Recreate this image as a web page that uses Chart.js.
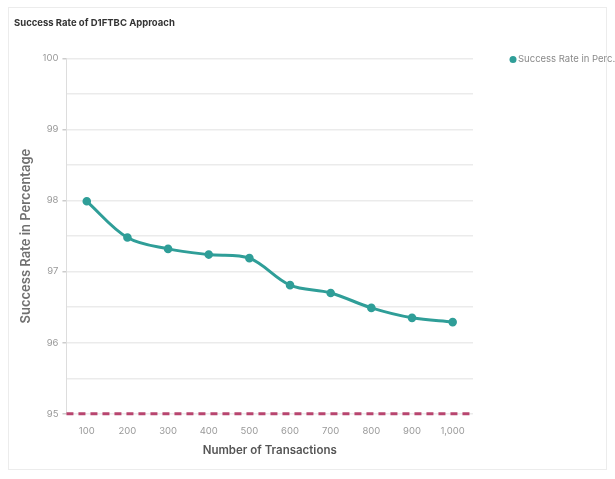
<!DOCTYPE html>
<html>
<head>
<meta charset="utf-8">
<script src="https://cdn.jsdelivr.net/npm/chart.js@4/dist/chart.umd.min.js"></script>
<style>
  html, body { margin: 0; padding: 0; background: #ffffff; width: 615px; height: 479px; overflow: hidden; }
  #card {
    position: absolute; left: 8px; top: 7px; width: 599px; height: 463px;
    border: 1px solid #ececec; box-sizing: border-box; background: #fff;
  }
  #wrap { position: absolute; left: 0; top: 0; width: 615px; height: 479px; }
</style>
</head>
<body>
<div id="card"></div>
<div id="wrap"><canvas id="chart"></canvas></div>
<script>
const transactions = ['100', '200', '300', '400', '500', '600', '700', '800', '900', '1,000'];
const successRate = [97.99, 97.48, 97.32, 97.24, 97.19, 96.81, 96.70, 96.49, 96.35, 96.29];
const thresholdValue = 95;
const yTickValues = [95, 96, 97, 98, 99, 100];

const teal = '#2f9e98';
const dashPink = '#b8456f';
const fontFamily = 'Inter, Roboto, sans-serif';

// Dashed horizontal reference line across the plot at the threshold value
const thresholdLine = {
  id: 'thresholdLine',
  afterDatasetsDraw(chart) {
    const { ctx, chartArea, scales } = chart;
    const y = scales.y.getPixelForValue(thresholdValue);
    ctx.save();
    ctx.strokeStyle = dashPink;
    ctx.lineWidth = 3;
    ctx.setLineDash([7, 5]);
    ctx.beginPath();
    ctx.moveTo(chartArea.left, y);
    ctx.lineTo(chartArea.right, y);
    ctx.stroke();
    ctx.restore();
  }
};

// Compact legend to the right of the plot, with the series name shortened
const sideLegend = {
  id: 'sideLegend',
  afterDraw(chart) {
    const { ctx, chartArea } = chart;
    const ds = chart.data.datasets[0];
    let text = ds.label;
    if (text.length > 20) text = text.slice(0, 20) + '...';
    const x = chartArea.right + 40;
    const y = chartArea.top + 1;
    ctx.save();
    ctx.fillStyle = ds.borderColor;
    ctx.beginPath();
    ctx.arc(x, y, 3.5, 0, Math.PI * 2);
    ctx.fill();
    ctx.fillStyle = '#8a8a8a';
    ctx.font = '9.5px ' + fontFamily;
    ctx.textBaseline = 'middle';
    ctx.textAlign = 'left';
    ctx.fillText(text, x + 5, y);
    ctx.restore();
  }
};

new Chart(document.getElementById('chart'), {
  type: 'line',
  data: {
    labels: transactions,
    datasets: [{
      label: 'Success Rate in Percentage',
      data: successRate,
      borderColor: teal,
      backgroundColor: teal,
      borderWidth: 3,
      tension: 0.35,
      pointRadius: 2.8,
      pointBackgroundColor: teal,
      pointBorderColor: teal,
      fill: false
    }]
  },
  options: {
    responsive: true,
    maintainAspectRatio: false,
    animation: false,
    layout: { padding: { left: 14, right: 142, top: 11, bottom: 18 } },
    plugins: {
      title: {
        display: true,
        text: 'Success Rate of D1FTBC Approach',
        align: 'start',
        color: '#333',
        font: { family: fontFamily, size: 9.5, weight: 'bold' },
        padding: { top: 6, bottom: 30 }
      },
      legend: { display: false },
      tooltip: { enabled: false }
    },
    scales: {
      x: {
        offset: true,
        grid: { display: false },
        border: { display: false },
        ticks: { color: '#999', font: { family: fontFamily, size: 9.5 }, padding: 4 },
        title: {
          display: true,
          text: 'Number of Transactions',
          color: '#555',
          font: { family: fontFamily, size: 11.5, weight: '600' },
          padding: { top: 2 }
        }
      },
      y: {
        min: 95,
        max: 100,
        ticks: {
          stepSize: 0.5,
          color: '#999',
          font: { family: fontFamily, size: 9.5 },
          padding: 4,
          callback: v => yTickValues.includes(v) ? String(v) : ''
        },
        grid: {
          color: '#ebebeb',
          lineWidth: 1.5,
          tickLength: 4,
          tickColor: ctx => yTickValues.includes(ctx.tick && ctx.tick.value) ? '#cccccc' : 'rgba(0,0,0,0)'
        },
        border: { display: true, color: '#dddddd' },
        title: {
          display: true,
          text: 'Success Rate in Percentage',
          color: '#707070',
          font: { family: fontFamily, size: 13, weight: '600' },
          padding: { bottom: 5 }
        }
      }
    }
  },
  plugins: [thresholdLine, sideLegend]
});
</script>
</body>
</html>
